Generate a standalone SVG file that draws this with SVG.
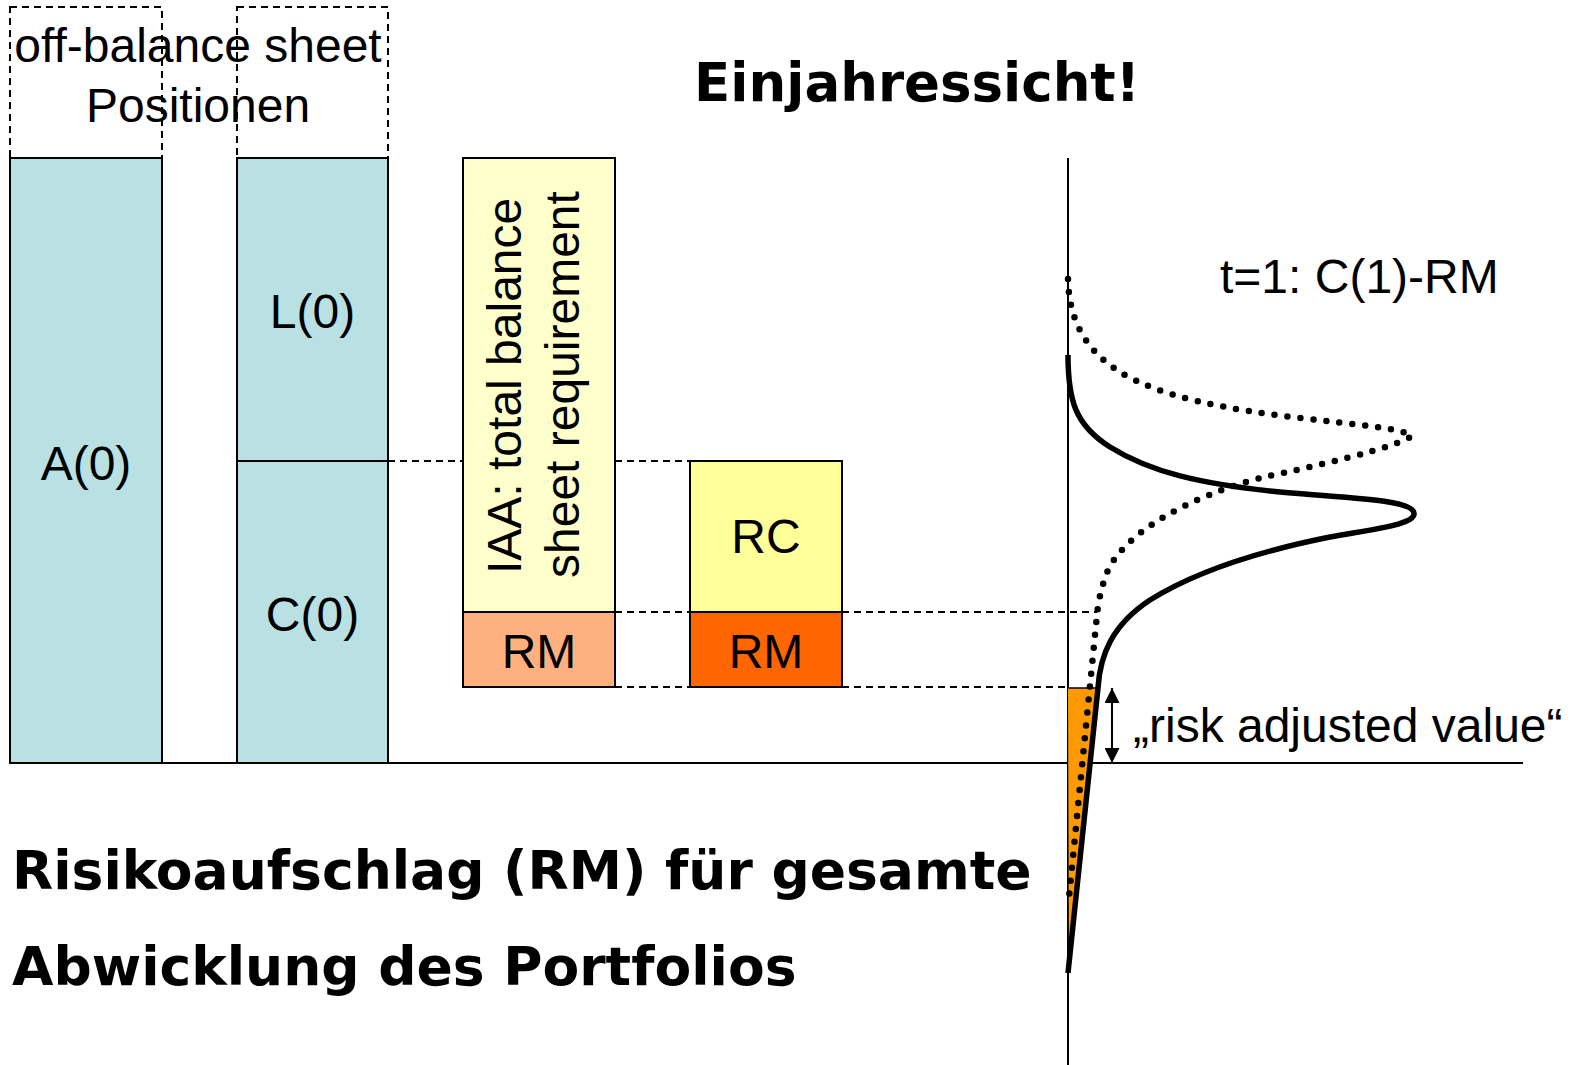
<svg xmlns="http://www.w3.org/2000/svg" width="1579" height="1065" viewBox="0 0 1579 1065">
  <style>
    .lbl { font-family: "Liberation Sans", Arial, sans-serif; font-size: 48px; fill: #000; }
    .head { font-family: "DejaVu Sans", Verdana, sans-serif; font-weight: bold; fill: #000; }
    .box { stroke: #000; stroke-width: 2; }
    .frame { fill: none; stroke: #000; stroke-width: 2; stroke-dasharray: 7 5; }
    .guide { fill: none; stroke: #000; stroke-width: 2; stroke-dasharray: 7 5; }
    .axis { fill: none; stroke: #000; stroke-width: 2; }
  </style>
  <defs>
    <marker id="arrowhead" viewBox="0 0 10 10" refX="10" refY="5" markerWidth="16" markerHeight="15" markerUnits="userSpaceOnUse" orient="auto-start-reverse">
      <path d="M0,0 L10,5 L0,10 z" fill="#000"/>
    </marker>
  </defs>
  <rect width="1579" height="1065" fill="#fff"/>

  <!-- dashed guide lines between the bars -->
  <g id="connectors">
    <line class="guide" x1="388" y1="461" x2="463" y2="461"/>
    <line class="guide" x1="615" y1="461" x2="690" y2="461"/>
    <line class="guide" x1="615" y1="612" x2="690" y2="612"/>
    <line class="guide" x1="842" y1="612" x2="1097" y2="612"/>
    <line class="guide" x1="615" y1="687" x2="690" y2="687"/>
    <line class="guide" x1="842" y1="687" x2="1068" y2="687"/>
  </g>

  <!-- off-balance sheet frames -->
  <g id="off-balance">
    <rect class="frame" x="10" y="7" width="152" height="151"/>
    <rect class="frame" x="237" y="7" width="151" height="151"/>
    <text class="lbl" x="198" y="62" text-anchor="middle">off-balance sheet</text>
    <text class="lbl" x="198" y="122" text-anchor="middle">Positionen</text>
  </g>

  <g id="assets">
    <rect class="box" x="10" y="158" width="152" height="605" fill="#B9E0E3"/>
    <text class="lbl" x="86" y="480" text-anchor="middle">A(0)</text>
  </g>

  <g id="liabilities">
    <rect class="box" x="237" y="158" width="151" height="303" fill="#B9E0E3"/>
    <text class="lbl" x="312.5" y="328" text-anchor="middle">L(0)</text>
  </g>

  <g id="capital">
    <rect class="box" x="237" y="461" width="151" height="302" fill="#B9E0E3"/>
    <text class="lbl" x="312.5" y="631" text-anchor="middle">C(0)</text>
  </g>

  <g id="iaa">
    <rect class="box" x="463" y="158" width="152" height="454" fill="#FFFFCC"/>
    <text class="lbl" transform="translate(521,574) rotate(-90)">IAA: total balance</text>
    <text class="lbl" transform="translate(579,578) rotate(-90)">sheet requirement</text>
  </g>

  <g id="rm-iaa">
    <rect class="box" x="463" y="612" width="152" height="75" fill="#FFB07F"/>
    <text class="lbl" x="539" y="668" text-anchor="middle">RM</text>
  </g>

  <g id="rc">
    <rect class="box" x="690" y="461" width="152" height="151" fill="#FFFF99"/>
    <text class="lbl" x="766" y="553" text-anchor="middle">RC</text>
  </g>

  <g id="rm">
    <rect class="box" x="690" y="612" width="152" height="75" fill="#FF6600"/>
    <text class="lbl" x="766" y="668" text-anchor="middle">RM</text>
  </g>

  <!-- axes -->
  <g id="axes">
    <line class="axis" x1="10" y1="763" x2="1523" y2="763"/>
    <line class="axis" x1="1068" y1="158" x2="1068" y2="1065"/>
  </g>

  <!-- distribution at t=1 -->
  <g id="distribution">
    <polygon points="1068,688 1098,688 1069,962" fill="#FF9900"/>
    <line x1="1068" y1="688" x2="1098" y2="688" stroke="#000" stroke-width="1.5"/>
    <path d="M1068,279 C1069,320 1085,350 1120,372 C1160,397 1230,410 1300,418 C1360,425 1400,428 1412,436 C1395,448 1320,465 1260,478 C1180,500 1125,535 1108,570 C1100,590 1098,605 1097,615 L1069,897" fill="none" stroke="#000" stroke-width="6.5" stroke-linecap="round" stroke-dasharray="0 13"/>
    <path d="M1068,355 C1068,400 1075,425 1110,447 C1150,472 1200,484 1280,492 C1360,499 1412,500 1414,513 C1416,524 1380,528 1330,537 C1260,551 1195,572 1150,600 C1112,625 1100,655 1098,688 L1068,973" fill="none" stroke="#000" stroke-width="5.5"/>
    <text class="lbl" x="1220" y="293">t=1: C(1)-RM</text>
  </g>

  <g id="risk-adjusted">
    <line x1="1112" y1="688" x2="1112" y2="763" stroke="#000" stroke-width="2" marker-start="url(#arrowhead)" marker-end="url(#arrowhead)"/>
    <text class="lbl" x="1133" y="742">„risk adjusted value“</text>
  </g>

  <g id="titles">
    <text class="head" x="917" y="101" font-size="53" text-anchor="middle">Einjahressicht!</text>
    <text class="head" x="12" y="889" font-size="53.5">Risikoaufschlag (RM) für gesamte</text>
    <text class="head" x="12" y="985" font-size="53.5">Abwicklung des Portfolios</text>
  </g>
</svg>
